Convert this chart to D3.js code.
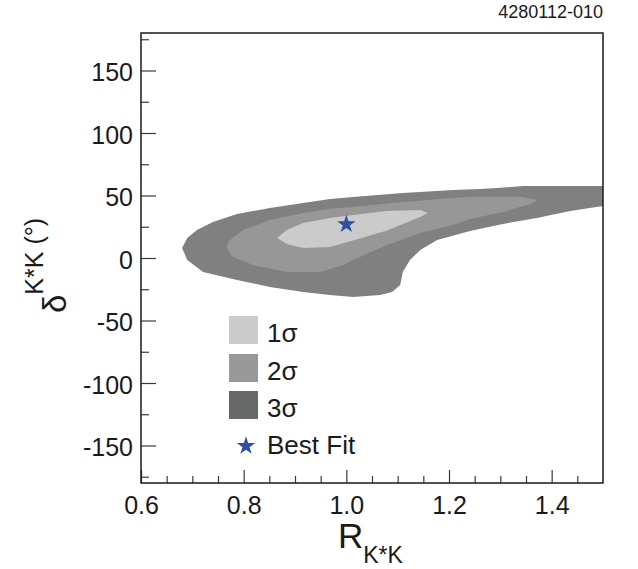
<!DOCTYPE html>
<html>
<head>
<meta charset="utf-8">
<script src="https://cdn.jsdelivr.net/npm/d3@7"></script>
<style>
  html, body { margin: 0; padding: 0; background: #fff; }
  svg { display: block; font-family: "Liberation Sans", Arial, Helvetica, sans-serif; }
</style>
</head>
<body>
<svg id="chart" width="638" height="569"></svg>
<script>
// ---------------- data ----------------
const xMajorTicks = [0.6, 0.8, 1.0, 1.2, 1.4];
const xMinorTicks = [0.65, 0.7, 0.75, 0.85, 0.9, 0.95, 1.05, 1.1, 1.15, 1.25, 1.3, 1.35, 1.45];
const yMajorTicks = [-150, -100, -50, 0, 50, 100, 150];
const yMinorTicks = [-175, -125, -75, -25, 25, 75, 125, 175];

// contour boundaries, [R, delta]
const contour3Sigma = [
  [1.5, 57.6], [1.344, 57.6], [1.294, 56], [1.26, 55.2], [1.208, 54.4], [1.11, 52],
  [1.013, 48.8], [0.968, 47.2], [0.916, 44], [0.851, 40], [0.787, 35.2], [0.74, 28.8],
  [0.709, 22.4], [0.69, 16], [0.68, 8], [0.69, -1.6], [0.721, -11.2], [0.787, -17.6],
  [0.851, -23.2], [0.916, -27.2], [0.968, -29.6], [1.013, -31.2], [1.066, -29.6],
  [1.089, -27.2], [1.105, -21.6], [1.11, -11.2], [1.124, -1.6], [1.144, 6.4],
  [1.177, 14.4], [1.241, 21.6], [1.305, 27.2], [1.371, 32], [1.436, 37.6], [1.5, 41.6]
];
const contour2Sigma = [
  [1.373, 46.4], [1.344, 48.8], [1.241, 48.8], [1.208, 48], [1.11, 44.8], [1.013, 40.8],
  [0.968, 39.5], [0.916, 36], [0.851, 30.4], [0.799, 22.4], [0.773, 14.4], [0.766, 8.8],
  [0.779, 0.8], [0.818, -5.6], [0.884, -11.2], [0.949, -11.2], [0.994, -5.6], [1.013, -1.6],
  [1.079, 10.4], [1.144, 20], [1.208, 26.4], [1.241, 31.2], [1.305, 36.8], [1.358, 43.2]
];
const contour1Sigma = [
  [1.159, 36], [1.144, 38.4], [1.079, 37.6], [1.013, 34.4], [0.968, 32], [0.916, 28],
  [0.884, 22.4], [0.865, 16], [0.884, 11.2], [0.916, 8], [0.968, 8.8], [1.013, 14],
  [1.079, 22], [1.144, 32.8]
];
const bestFit = [1.0, 27];

const legendLabels = ["1σ", "2σ", "3σ", "Best Fit"];
const figureId = "4280112-010";

// ---------------- layout ----------------
const svg = d3.select("#chart");
const plot = { left: 141, right: 603, top: 33, bottom: 483 };

const x = d3.scaleLinear().domain([0.6, 1.5]).range([plot.left, plot.right]);
const y = d3.scaleLinear().domain([-180, 180]).range([plot.bottom, plot.top]);

const fillsPlot = ["#cbcbcb", "#979797", "#808080"];
const fillsLegend = ["#cbcbcb", "#999999", "#676868"];
const starColor = "#2f4fa3";

svg.append("defs").append("clipPath").attr("id", "clip")
  .append("rect")
  .attr("x", plot.left).attr("y", plot.top)
  .attr("width", plot.right - plot.left).attr("height", plot.bottom - plot.top);

const line = d3.line().x(d => x(d[0])).y(d => y(d[1])).curve(d3.curveLinearClosed);

const g = svg.append("g").attr("clip-path", "url(#clip)");
[[contour3Sigma, fillsPlot[2]], [contour2Sigma, fillsPlot[1]], [contour1Sigma, fillsPlot[0]]]
  .forEach(([pts, col]) => {
    g.append("path").attr("d", line(pts)).attr("fill", col).attr("stroke", "none");
  });

// best fit star
const star = d3.symbol().type(d3.symbolStar).size(105);
svg.append("path")
  .attr("d", star())
  .attr("transform", `translate(${x(bestFit[0])},${y(bestFit[1])})`)
  .attr("fill", starColor);

// ---------------- axes ----------------
const tickColor = "#3a3a3a";
function styleAxis(sel) {
  sel.select(".domain").remove();
  sel.selectAll(".tick line").attr("stroke", tickColor).attr("stroke-width", 1.2);
  sel.selectAll(".tick text")
    .attr("fill", "#1a1a1a")
    .style("font-size", "25px")
    .style("font-family", '"Liberation Sans", Arial, Helvetica, sans-serif');
}

const xAxisMajor = svg.append("g").attr("transform", `translate(0,${plot.bottom})`)
  .call(d3.axisBottom(x).tickValues(xMajorTicks).tickSize(-13).tickPadding(13)
    .tickFormat(d3.format(".1f")));
styleAxis(xAxisMajor);

const xAxisMinor = svg.append("g").attr("transform", `translate(0,${plot.bottom})`)
  .call(d3.axisBottom(x).tickValues(xMinorTicks).tickSize(-7).tickFormat(""));
styleAxis(xAxisMinor);

const yAxisMajor = svg.append("g").attr("transform", `translate(${plot.left},0)`)
  .call(d3.axisLeft(y).tickValues(yMajorTicks).tickSize(-15).tickPadding(8)
    .tickFormat(d => String(d)));
styleAxis(yAxisMajor);
yAxisMajor.selectAll(".tick text").attr("dy", "0.4em");

const yAxisMinor = svg.append("g").attr("transform", `translate(${plot.left},0)`)
  .call(d3.axisLeft(y).tickValues(yMinorTicks).tickSize(-8).tickFormat(""));
styleAxis(yAxisMinor);

// frame
svg.append("rect")
  .attr("x", plot.left).attr("y", plot.top)
  .attr("width", plot.right - plot.left).attr("height", plot.bottom - plot.top)
  .attr("fill", "none").attr("stroke", "#1a1a1a").attr("stroke-width", 1.5);

// ---------------- titles ----------------
const xt = svg.append("text")
  .attr("x", 338).attr("y", 548)
  .attr("fill", "#1a1a1a")
  .style("font-size", "35px");
xt.append("tspan").text("R");
xt.append("tspan").attr("dy", 15).style("font-size", "23px").text("K*K");

const yt = svg.append("text")
  .attr("transform", "translate(66,313) rotate(-90)")
  .attr("fill", "#1a1a1a")
  .style("font-size", "33px");
yt.append("tspan").text("δ");
yt.append("tspan").attr("dy", -23).style("font-size", "25px").text("K*K (°)");

svg.append("text")
  .attr("x", 603).attr("y", 18)
  .attr("text-anchor", "end")
  .attr("fill", "#1a1a1a")
  .style("font-size", "18px")
  .text(figureId);

// ---------------- legend ----------------
const legend = svg.append("g");
const legendRowsY = [316, 354, 391];
legendLabels.slice(0, 3).forEach((lab, i) => {
  legend.append("rect")
    .attr("x", 229).attr("y", legendRowsY[i])
    .attr("width", 29).attr("height", 28)
    .attr("fill", fillsLegend[i]);
  legend.append("text")
    .attr("x", 267).attr("y", legendRowsY[i] + 26)
    .attr("fill", "#1a1a1a")
    .style("font-size", "26px")
    .text(lab);
});
legend.append("path")
  .attr("d", star())
  .attr("transform", "translate(246,446)")
  .attr("fill", starColor);
legend.append("text")
  .attr("x", 267).attr("y", 454)
  .attr("fill", "#1a1a1a")
  .style("font-size", "26px")
  .text(legendLabels[3]);
</script>
</body>
</html>
